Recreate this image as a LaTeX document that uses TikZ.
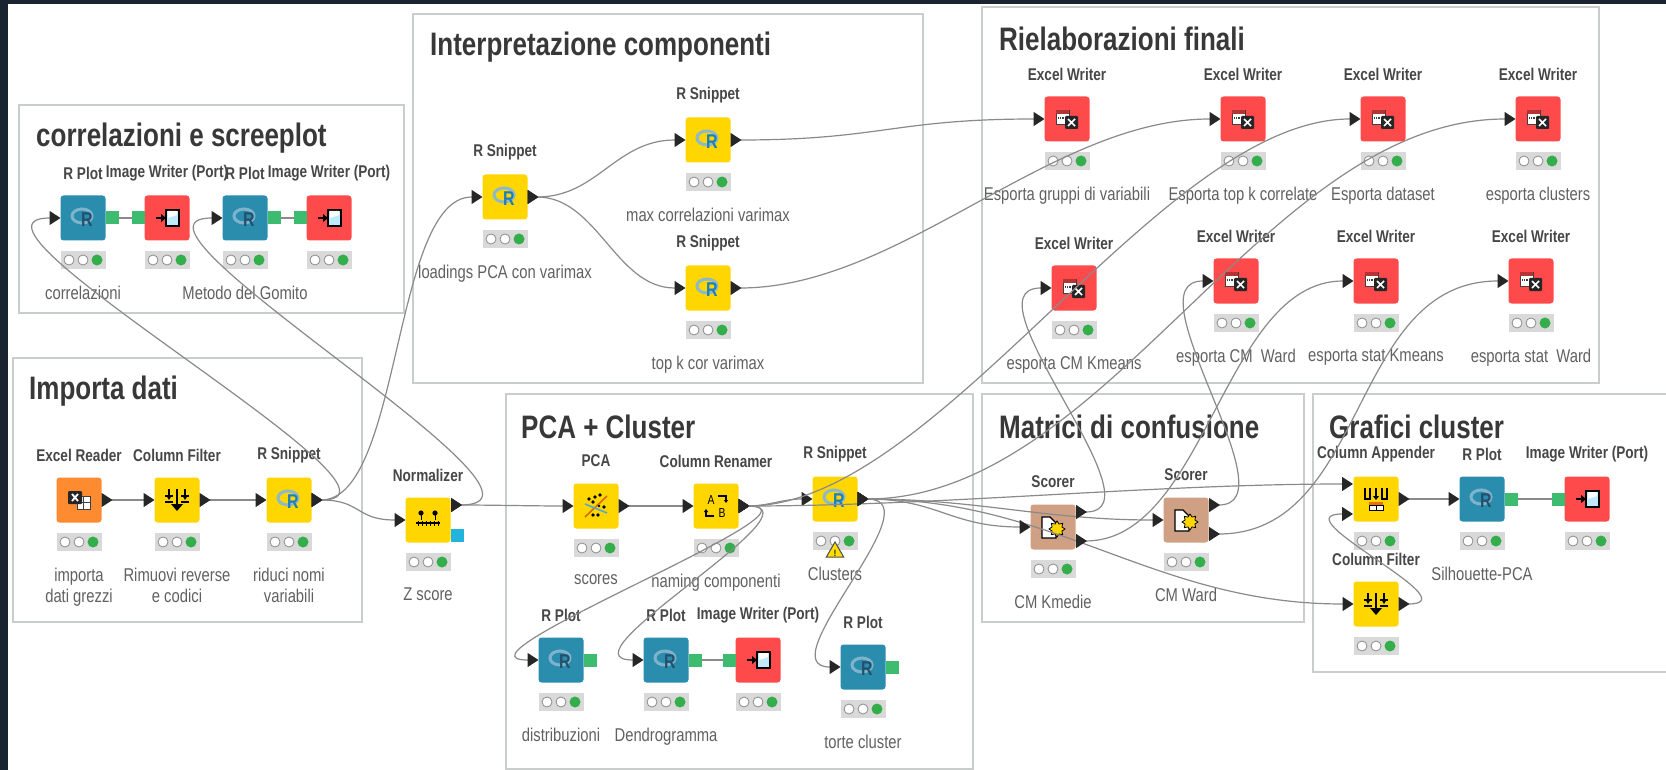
\documentclass[tikz,border=0pt]{standalone}
\usepackage{fontspec}
\setmainfont{Liberation Sans}[FakeStretch=0.8]
\usetikzlibrary{positioning,arrows.meta,shapes.geometric}
\definecolor{kdark}{HTML}{1A2330}
\definecolor{kframe}{HTML}{C9CDCC}
\definecolor{kyellow}{HTML}{FFD600}
\definecolor{kteal}{HTML}{2A8DAE}
\definecolor{kred}{HTML}{FF4A4C}
\definecolor{korange}{HTML}{FF8B30}
\definecolor{ktan}{HTML}{CFA083}
\definecolor{kgreen}{HTML}{3DBB6E}
\definecolor{kcyan}{HTML}{22B4DC}
\definecolor{kled}{HTML}{34AE4A}
\definecolor{kline}{HTML}{8A8A8A}
\definecolor{ktip}{HTML}{262626}
\definecolor{kringa}{HTML}{7FB2CB}
\definecolor{kringb}{HTML}{8DB9C9}
\definecolor{krdark}{HTML}{24506E}
\definecolor{krblue}{HTML}{1C7FBC}
\tikzset{
  grp/.style={draw=kframe,line width=2.5pt},
  grptitle/.style={anchor=west,inner sep=0,font=\fontsize{32.5}{35}\selectfont\bfseries,text=black!78},
  kbox/.style={minimum size=45pt,inner sep=0,outer sep=0,rounded corners=3pt},
  ktitle/.style={inner sep=0,font=\fontsize{17}{19}\selectfont\bfseries,text=black!72},
  kdesc/.style={anchor=north,inner sep=0,align=center,font=\fontsize{18.5}{21}\selectfont,text=black!62},
  klight/.style={fill=black!15,minimum width=45pt,minimum height=18pt,inner sep=0},
  koff/.style={circle,fill=white,draw=black!45,line width=.8pt,minimum size=10pt,inner sep=0},
  kon/.style={circle,fill=kled,minimum size=11pt,inner sep=0},
  gport/.style={fill=kgreen,minimum size=13pt,inner sep=0,outer sep=0},
  conn/.style={draw=kline,line width=1.2pt,
    {Triangle[reversed,length=11pt,width=14pt,color=ktip]}-{Triangle[length=11pt,width=14pt,color=ktip]}},
}
% name, x, y, colour, title
\newcommand{\KNode}[5]{%
  \node[kbox,fill=#4] (#1) at (#2,#3) {};
  \node[ktitle] (#1-t) at (#2,#3-45) {#5};
  \node[klight] (#1-s) at (#2,#3+42) {};
  \node[koff] (#1-a) at ([xshift=-14pt]#1-s.center) {};
  \node[koff] (#1-b) at (#1-s.center) {};
  \node[kon] (#1-c) at ([xshift=14pt]#1-s.center) {};
}
\newcommand{\KDesc}[2]{\node[kdesc] (#1-d) at ([yshift=-68pt]#1.center) {#2};}
% from, to, control lengths
\newcommand{\Conn}[4]{\draw[conn] (#1) .. controls +(#3,0) and +(-#4,0) .. (#2);}
% icons
\newcommand{\IconR}[3]{%
  \draw[#2,line width=3pt] ([xshift=-1pt,yshift=2pt]#1.center) ellipse (10pt and 7pt);
  \node[inner sep=0,text=#3,font=\fontsize{20}{20}\selectfont\bfseries] (#1-r) at ([xshift=4pt,yshift=-2pt]#1.center) {R};
}
\newcommand{\IconWrite}[1]{%
  \begin{scope}[shift={(#1.center)}]
    \draw[black!75,fill=white,line width=.9pt] (-11,-9) rectangle (2,5);
    \fill[kred!70!black] (-11,-9) rectangle (2,-5);
    \draw[black!75,line width=1.2pt,densely dotted] (-9,-1) -- (0,-1);
    \fill[black!85,rounded corners=1pt] (-2,-3) rectangle (11,10);
    \draw[white,line width=1.7pt] (1,0) -- (8,7) (8,0) -- (1,7);
  \end{scope}}
\newcommand{\IconImage}[1]{%
  \begin{scope}[shift={(#1.center)}]
    \draw[black,fill=cyan!25,line width=1.3pt] (-1,-8) rectangle (12,8);
    \fill[white] (1,-7) -- (10,-7) -- (10,-3) -- (1,0) -- cycle;
    \draw[black,line width=1.5pt] (-11,0) -- (-4,0);
    \fill[black] (-1,0) -- (-6,-4) -- (-6,4) -- cycle;
  \end{scope}}
\newcommand{\IconFilter}[1]{%
  \begin{scope}[shift={(#1.center)}]
    \draw[black,line width=1.7pt] (0,-11) -- (0,8);
    \fill[black] (0,11) -- (-6,4) -- (6,4) -- cycle;
    \draw[black,line width=1.1pt] (-12,-4) -- (-4,-4) (4,-4) -- (12,-4) (-12,2) -- (-4,2) (4,2) -- (12,2)
      (-8,-11) -- (-8,-4) (8,-11) -- (8,-4);
    \fill[black] (-8,0) -- (-11,-5) -- (-5,-5) -- cycle (8,0) -- (5,-5) -- (11,-5) -- cycle;
  \end{scope}}
\newcommand{\IconScore}[1]{%
  \begin{scope}[shift={(#1.center)}]
    \draw[black,fill=white,line width=1.2pt] (-11,-10) -- (-3,-10) -- (3,-4) -- (3,11) -- (-11,11) -- cycle;
    \node[star,star points=8,fill=kyellow,draw=black,line width=.8pt,minimum size=16pt,inner sep=0] (#1-i) at (4,2) {};
  \end{scope}}
\begin{document}
\begin{tikzpicture}[x=1pt,y=-1pt]
\useasboundingbox (0,0) rectangle (1666,770);
\fill[white] (0,0) rectangle (1666,770);
\fill[kdark] (0,0) rectangle (1666,4);
\fill[kdark] (0,0) rectangle (8,770);
% frames
\draw[grp] (19,105) rectangle (404,313);
\draw[grp] (13,358) rectangle (362,622);
\draw[grp] (413,14) rectangle (923,383);
\draw[grp] (982,7) rectangle (1599,383);
\draw[grp] (506,394) rectangle (973,769);
\draw[grp] (982,394) rectangle (1304,622);
\draw[grp] (1666,394) -- (1313,394) -- (1313,672) -- (1666,672);
\node[grptitle] (corrtitle) at (36,138) {correlazioni e screeplot};
\node[grptitle] (imptitle) at (29,391) {Importa dati};
\node[grptitle] (inttitle) at (430,47) {Interpretazione componenti};
\node[grptitle] (rieltitle) at (999,39) {Rielaborazioni finali};
\node[grptitle] (pcatitle) at (521,427) {PCA + Cluster};
\node[grptitle] (mattitle) at (999,427) {Matrici di confusione};
\node[grptitle] (graftitle) at (1329,427) {Grafici cluster};
% correlazioni e screeplot
\KNode{rpa}{83}{218}{kteal}{R Plot}
\KNode{iwa}{167}{218}{kred}{Image Writer (Port)}
\KNode{rpb}{245}{218}{kteal}{R Plot}
\KNode{iwb}{329}{218}{kred}{Image Writer (Port)}
\KDesc{rpa}{correlazioni}
\KDesc{rpb}{Metodo del Gomito}
% importa dati
\KNode{xlr}{79}{500}{korange}{Excel Reader}
\KNode{cfa}{177}{500}{kyellow}{Column Filter}
\KNode{rsa}{289}{500}{kyellow}{R Snippet}
\KNode{norm}{428}{520}{kyellow}{Normalizer}
\KDesc{xlr}{importa\\dati grezzi}
\KDesc{cfa}{Rimuovi reverse\\e codici}
\KDesc{rsa}{riduci nomi\\variabili}
\KDesc{norm}{Z score}
% interpretazione componenti
\KNode{rsb}{505}{197}{kyellow}{R Snippet}
\KNode{rsc}{708}{140}{kyellow}{R Snippet}
\KNode{rsd}{708}{288}{kyellow}{R Snippet}
\KDesc{rsb}{loadings PCA con varimax}
\KDesc{rsc}{max correlazioni varimax}
\KDesc{rsd}{top k cor varimax}
% rielaborazioni finali
\KNode{ewa}{1067}{119}{kred}{Excel Writer}
\KNode{ewb}{1243}{119}{kred}{Excel Writer}
\KNode{ewc}{1383}{119}{kred}{Excel Writer}
\KNode{ewd}{1538}{119}{kred}{Excel Writer}
\KNode{ewe}{1074}{288}{kred}{Excel Writer}
\KNode{ewf}{1236}{281}{kred}{Excel Writer}
\KNode{ewg}{1376}{281}{kred}{Excel Writer}
\KNode{ewh}{1531}{281}{kred}{Excel Writer}
\KDesc{ewa}{Esporta gruppi di variabili}
\KDesc{ewb}{Esporta top k correlate}
\KDesc{ewc}{Esporta dataset}
\KDesc{ewd}{esporta clusters}
\KDesc{ewe}{esporta CM Kmeans}
\KDesc{ewf}{esporta CM\ \ Ward}
\KDesc{ewg}{esporta stat Kmeans}
\KDesc{ewh}{esporta stat\ \ Ward}
% pca + cluster
\KNode{pca}{596}{506}{kyellow}{PCA}
\KNode{ren}{716}{506}{kyellow}{Column Renamer}
\KNode{rse}{835}{499}{kyellow}{R Snippet}
\KNode{rpc}{561}{660}{kteal}{R Plot}
\KNode{rpd}{666}{660}{kteal}{R Plot}
\KNode{iwc}{758}{660}{kred}{Image Writer (Port)}
\KNode{rpe}{863}{667}{kteal}{R Plot}
\KDesc{pca}{scores}
\KDesc{ren}{naming componenti}
\KDesc{rse}{Clusters}
\KDesc{rpc}{distribuzioni}
\KDesc{rpd}{Dendrogramma}
\KDesc{rpe}{torte cluster}
% matrici e grafici
\KNode{sca}{1053}{527}{ktan}{Scorer}
\KNode{scb}{1186}{520}{ktan}{Scorer}
\KNode{app}{1376}{499}{kyellow}{Column Appender}
\KNode{rpf}{1482}{499}{kteal}{R Plot}
\KNode{iwd}{1587}{499}{kred}{Image Writer (Port)}
\KNode{cfb}{1376}{604}{kyellow}{Column Filter}
\KDesc{sca}{CM Kmedie}
\KDesc{scb}{CM Ward}
\KDesc{rpf}{Silhouette-PCA}
% icons
\IconR{rpa}{kringa}{krdark}
\IconR{rpb}{kringa}{krdark}
\IconR{rpc}{kringa}{krdark}
\IconR{rpd}{kringa}{krdark}
\IconR{rpe}{kringa}{krdark}
\IconR{rpf}{kringa}{krdark}
\IconR{rsa}{kringb}{krblue}
\IconR{rsb}{kringb}{krblue}
\IconR{rsc}{kringb}{krblue}
\IconR{rsd}{kringb}{krblue}
\IconR{rse}{kringb}{krblue}
\IconImage{iwa}
\IconImage{iwb}
\IconImage{iwc}
\IconImage{iwd}
\IconWrite{ewa}
\IconWrite{ewb}
\IconWrite{ewc}
\IconWrite{ewd}
\IconWrite{ewe}
\IconWrite{ewf}
\IconWrite{ewg}
\IconWrite{ewh}
\IconFilter{cfa}
\IconFilter{cfb}
\IconScore{sca}
\IconScore{scb}
\begin{scope}[shift={(xlr.center)}]
  \draw[black!75,fill=white,line width=.9pt] (-2,-4) rectangle (11,9);
  \draw[black!75,line width=1pt] (-2,2) -- (11,2) (4,-4) -- (4,9);
  \fill[black!85,rounded corners=1pt] (-11,-9) rectangle (3,4);
  \draw[white,line width=1.8pt] (-7,-6) -- (-1,1) (-1,-6) -- (-7,1);
\end{scope}
\begin{scope}[shift={(norm.center)}]
  \draw[black,line width=1.1pt] (-12,3) -- (12,3);
  \foreach \tx in {-10,-6,-2,2,6,10} {\draw[black,line width=.9pt] (\tx,1) -- (\tx,6);}
  \fill[black] (-7,-7) circle (2.6pt) (7,-7) circle (2.6pt);
  \draw[black,line width=1pt] (-7,-7) -- (-7,0) (7,-7) -- (7,0);
\end{scope}
\begin{scope}[shift={(pca.center)}]
  \draw[orange!85!black,line width=1.6pt] (-11,11) -- (11,-10);
  \draw[cyan!60!gray,line width=1.6pt] (-11,-2) -- (11,7);
  \fill[black] (-7,-7) circle (1.8pt) (-1,-9) circle (1.8pt) (4,-11) circle (1.8pt) (-3,-4) circle (1.8pt)
    (8,1) circle (1.8pt) (-3,9) circle (1.8pt) (2,9) circle (1.8pt) (3,0) circle (1.4pt);
\end{scope}
\begin{scope}[shift={(ren.center)}]
  \node[inner sep=0,font=\fontsize{13}{13}\selectfont] (ren-ia) at (-5,-6) {A};
  \node[inner sep=0,font=\fontsize{13}{13}\selectfont] (ren-ib) at (6,7) {B};
  \draw[black,line width=1.2pt,-{Triangle[length=3pt,width=4pt]}] (2,-10) -- (10,-10) -- (10,-3);
  \draw[black,line width=1.2pt,-{Triangle[length=3pt,width=4pt]}] (-2,10) -- (-10,10) -- (-10,3);
\end{scope}
\begin{scope}[shift={(app.center)}]
  \draw[black,line width=1.1pt] (-11,-11) -- (-11,0) -- (-6,0) -- (-6,-11) (6,-11) -- (6,0) -- (11,0) -- (11,-11);
  \draw[black,line width=1.5pt,-{Triangle[length=4pt,width=6pt]}] (0,-11) -- (0,1);
  \fill[orange!90!black] (-7,3) rectangle (7,6);
  \draw[black,line width=.9pt,fill=white] (-7,6) rectangle (7,11);
  \draw[black,line width=.9pt] (0,6) -- (0,11);
\end{scope}
% small ports and warning
\node[gport,right=0pt of rpa] (rpa-p) {};
\node[gport,left=0pt of iwa] (iwa-p) {};
\node[gport,right=0pt of rpb] (rpb-p) {};
\node[gport,left=0pt of iwb] (iwb-p) {};
\node[gport,right=0pt of rpc] (rpc-p) {};
\node[gport,right=0pt of rpd] (rpd-p) {};
\node[gport,left=0pt of iwc] (iwc-p) {};
\node[gport,right=0pt of rpe] (rpe-p) {};
\node[gport,right=0pt of rpf] (rpf-p) {};
\node[gport,left=0pt of iwd] (iwd-p) {};
\node[fill=kcyan,minimum size=13pt,inner sep=0] (norm-p) at (457,535) {};
\node[regular polygon,regular polygon sides=3,fill=yellow!80!orange,draw=black!70,line width=1pt,minimum size=20pt,inner sep=0] (warn) at (835,552) {};
\node[inner sep=0,font=\fontsize{9}{9}\selectfont\bfseries] (warn-i) at (835,553) {!};
\coordinate (norm-o) at (451,505);
\coordinate (sca-oa) at (1076,512);
\coordinate (sca-ob) at (1076,541);
\coordinate (scb-oa) at (1209,505);
\coordinate (scb-ob) at (1209,534);
\coordinate (app-ia) at (1353,484);
\coordinate (app-ib) at (1353,514);
% connections
\draw[kline,line width=1.2pt] (rpa-p) -- (iwa-p);
\draw[kline,line width=1.2pt] (rpb-p) -- (iwb-p);
\draw[kline,line width=1.2pt] (rpd-p) -- (iwc-p);
\draw[kline,line width=1.2pt] (rpf-p) -- (iwd-p);
\draw[conn] (xlr) -- (cfa);
\draw[conn] (cfa) -- (rsa);
\Conn{rsa.east}{norm.west}{50}{50}
\Conn{rsa.east}{rpa.west}{130}{130}
\Conn{rsa.east}{rsb.west}{90}{90}
\Conn{norm-o}{rpb.west}{140}{130}
\Conn{norm-o}{pca.west}{40}{40}
\Conn{rsb.east}{rsc.west}{70}{70}
\Conn{rsb.east}{rsd.west}{70}{70}
\Conn{rsc.east}{ewa.west}{150}{150}
\Conn{rsd.east}{ewb.west}{170}{170}
\draw[conn] (pca) -- (ren);
\Conn{ren.east}{rse.west}{30}{30}
\Conn{ren.east}{ewc.west}{200}{200}
\Conn{ren.east}{app-ia}{200}{200}
\Conn{ren.east}{rpc.west}{100}{100}
\Conn{ren.east}{rpd.west}{90}{90}
\Conn{rse.east}{ewd.west}{250}{250}
\Conn{rse.east}{scb.west}{120}{120}
\Conn{rse.east}{cfb.west}{200}{200}
\Conn{rse.east}{sca.west}{80}{80}
\Conn{rse.east}{rpe.west}{80}{75}
\Conn{sca-oa}{ewe.west}{90}{90}
\Conn{sca-ob}{ewg.west}{130}{130}
\Conn{scb-oa}{ewf.west}{85}{85}
\Conn{scb-ob}{ewh.west}{160}{160}
\Conn{cfb.east}{app-ib}{75}{75}
\draw[conn] (app) -- (rpf);
\end{tikzpicture}
\end{document}
